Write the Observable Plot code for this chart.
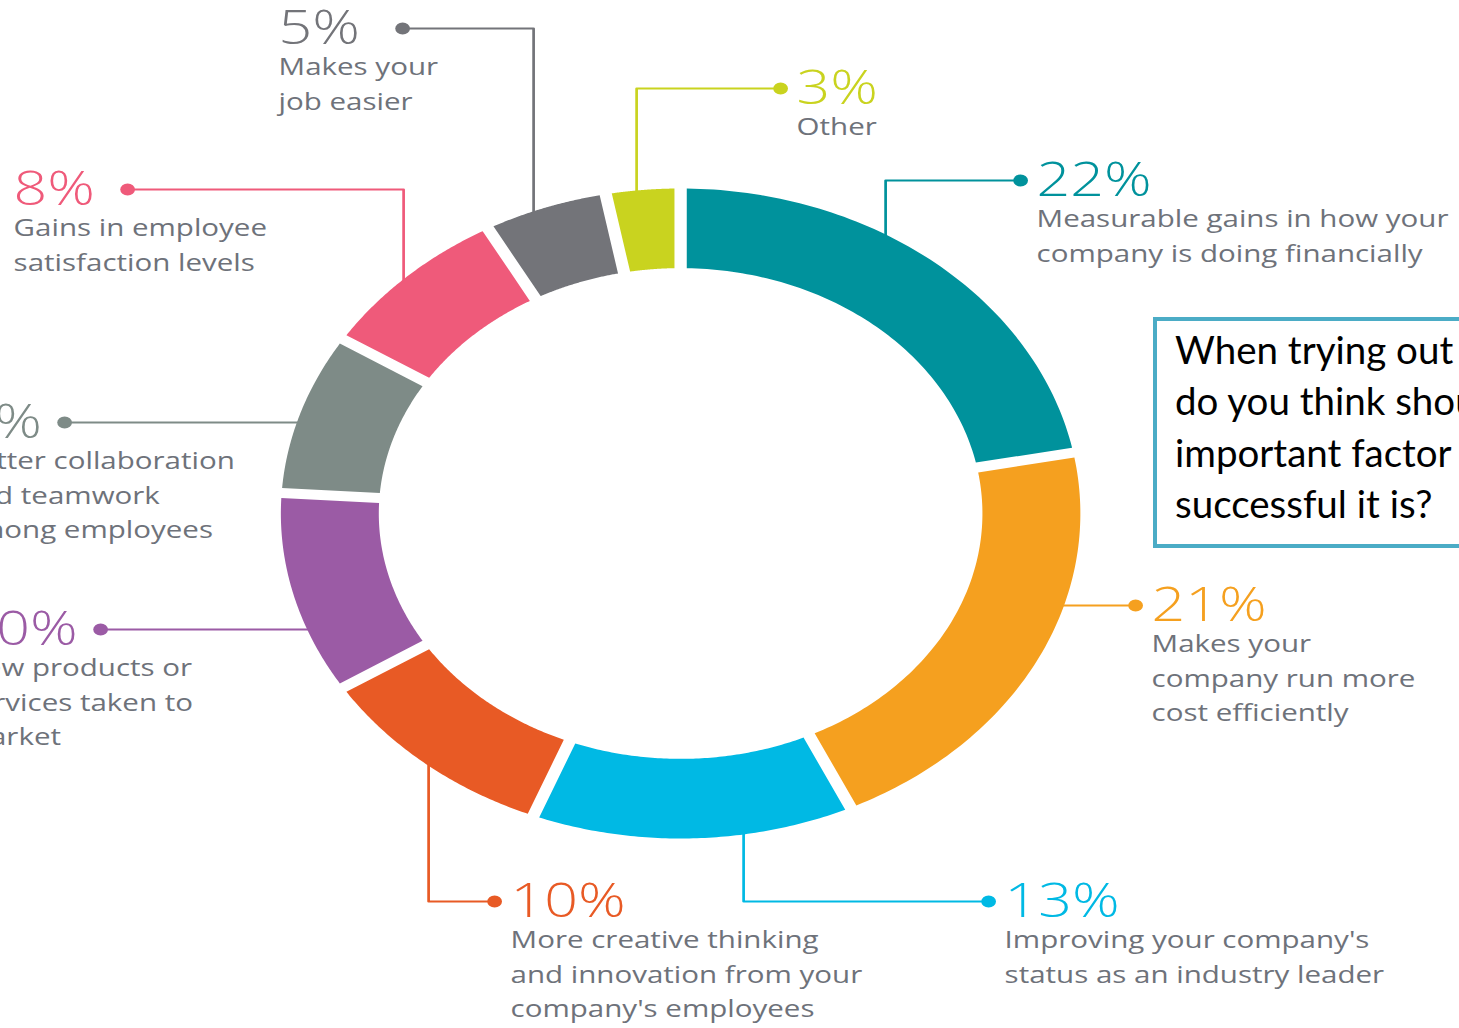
<!DOCTYPE html>
<html><head><meta charset="utf-8">
<script src="https://cdn.jsdelivr.net/npm/d3@7"></script>
<script src="https://cdn.jsdelivr.net/npm/@observablehq/plot@0.6"></script>
<style>
html,body{margin:0;padding:0;background:#fff;overflow:hidden;width:1459px;height:1028px;}
#chart{position:absolute;left:0;top:0;transform:scaleX(1.23);transform-origin:0 0;}
#box{position:absolute;left:1153px;top:317px;width:420px;height:220px;border:4px solid #4BACC6;
  padding:3px 0 0 18px;font-family:Lato,"Liberation Sans",sans-serif;font-size:38.5px;line-height:51.3px;
  color:#000;white-space:nowrap;background:#fff;}
</style></head><body>
<div id="chart"></div>
<div id="box">When trying out new technology, what<br>do you think should be the most<br>important factor in determining how<br>successful it is?</div>
<script>
// ---- data ----
const categories = ["financial","cost","leader","creative","products","collaboration","satisfaction","easier","other"];
const values = [22, 21, 13, 10, 10, 8, 8, 5, 3];
const colors = ["#00929C","#F5A01F","#00B9E4","#E85A25","#9B5BA5","#7E8B87","#EF5A7A","#737479","#C9D31F"];
const descriptions = [
  "Measurable gains in how your\ncompany is doing financially",
  "Makes your\ncompany run more\ncost efficiently",
  "Improving your company's\nstatus as an industry leader",
  "More creative thinking\nand innovation from your\ncompany's employees",
  "New products or\nservices taken to\nmarket",
  "Better collaboration\nand teamwork\namong employees",
  "Gains in employee\nsatisfaction levels",
  "Makes your\njob easier",
  "Other"
];

// ---- layout (reference pixels), not data ----
const STRETCH = 1.23, W = 1459, H = 1028, CX = 680, CY = 513, RY = 325;
const INNER = 0.755, GAP = 5 / RY;
const layout = [
  {kind:"v", lead:885, dotX:1020, dotY:180},
  {kind:"h", dotX:1135, dotY:605},
  {kind:"v", lead:743, dotX:988, dotY:901},
  {kind:"v", lead:428, dotX:494, dotY:901},
  {kind:"h", dotX:100, dotY:629, labelX:-38},
  {kind:"h", dotX:64, dotY:422, labelX:-40},
  {kind:"v", lead:403, dotX:127, dotY:189, labelX:13},
  {kind:"v", lead:533, dotX:402, dotY:28, labelX:278},
  {kind:"v", lead:636, dotX:780, dotY:88}
];
const ux = px => (px - CX) / (RY * STRETCH);
const uy = py => (CY - py) / RY;

// ---- slice polygons from values ----
const total = d3.sum(values);
const slices = [];
let acc = 0;
values.forEach((v, i) => {
  const a0 = acc / total * 2 * Math.PI, a1 = (acc + v) / total * 2 * Math.PI;
  acc += v;
  const n = 80;
  const o0 = a0 + Math.asin(GAP), o1 = a1 - Math.asin(GAP);
  const i0 = a0 + Math.asin(GAP / INNER), i1 = a1 - Math.asin(GAP / INNER);
  for (let k = 0; k <= n; k++) { const a = o0 + (o1 - o0) * k / n; slices.push({c: categories[i], x: Math.sin(a), y: Math.cos(a)}); }
  for (let k = n; k >= 0; k--) { const a = i0 + (i1 - i0) * k / n; slices.push({c: categories[i], x: INNER * Math.sin(a), y: INNER * Math.cos(a)}); }
});

// ---- leaders, dots, labels ----
const leaders = [], dots = [], pcts = [], descs = [];
layout.forEach((L, i) => {
  const c = categories[i];
  const dx = ux(L.dotX), dy = uy(L.dotY);
  if (L.kind === "v") {
    const lxu = ux(L.lead);
    const lx = lxu * STRETCH * RY / RY; // unit-circle x in plot space
    const ry = Math.sign(dy) * Math.sqrt(Math.max(0, 1 - lxu * lxu)) * 0.9;
    leaders.push({c, x: lxu, y: ry}, {c, x: lxu, y: dy}, {c, x: dx, y: dy});
  } else {
    const rx = Math.sign(dx) * Math.sqrt(1 - dy * dy) * 0.9;
    leaders.push({c, x: rx, y: dy}, {c, x: dx, y: dy});
  }
  dots.push({c, x: dx, y: dy});
  const tx = L.labelX !== undefined ? ux(L.labelX) : ux(L.dotX + 16);
  pcts.push({c, x: tx, y: dy, t: values[i] + "%"});
  descs.push({c, x: tx, y: dy, t: descriptions[i]});
});

const PW = Math.round(W / STRETCH);
const chart = Plot.plot({
  width: PW, height: H, margin: 0,
  x: {domain: [ux(0), ux(PW * STRETCH)], axis: null},
  y: {domain: [uy(H), uy(0)], axis: null},
  color: {domain: categories, range: colors},
  marks: [
    Plot.line(leaders, {x: "x", y: "y", z: "c", stroke: "c", strokeWidth: 2.2}),
    Plot.line(slices, {x: "x", y: "y", z: "c", fill: "c", stroke: "none"}),
    Plot.dot(dots, {x: "x", y: "y", fill: "c", r: 6}),
    Plot.text(pcts, {x: "x", y: "y", text: "t", fill: "c", textAnchor: "start", lineAnchor: "middle",
      fontSize: 48, fontWeight: 300, fontFamily: "'Open Sans', Lato, sans-serif"}),
    Plot.text(descs, {x: "x", y: "y", text: "t", fill: "#6E727A", textAnchor: "start", lineAnchor: "top",
      dy: 22, lineHeight: 1.44, fontSize: 24, fontFamily: "'Open Sans', Lato, sans-serif"})
  ]
});
document.getElementById("chart").appendChild(chart);
</script>
</body></html>
